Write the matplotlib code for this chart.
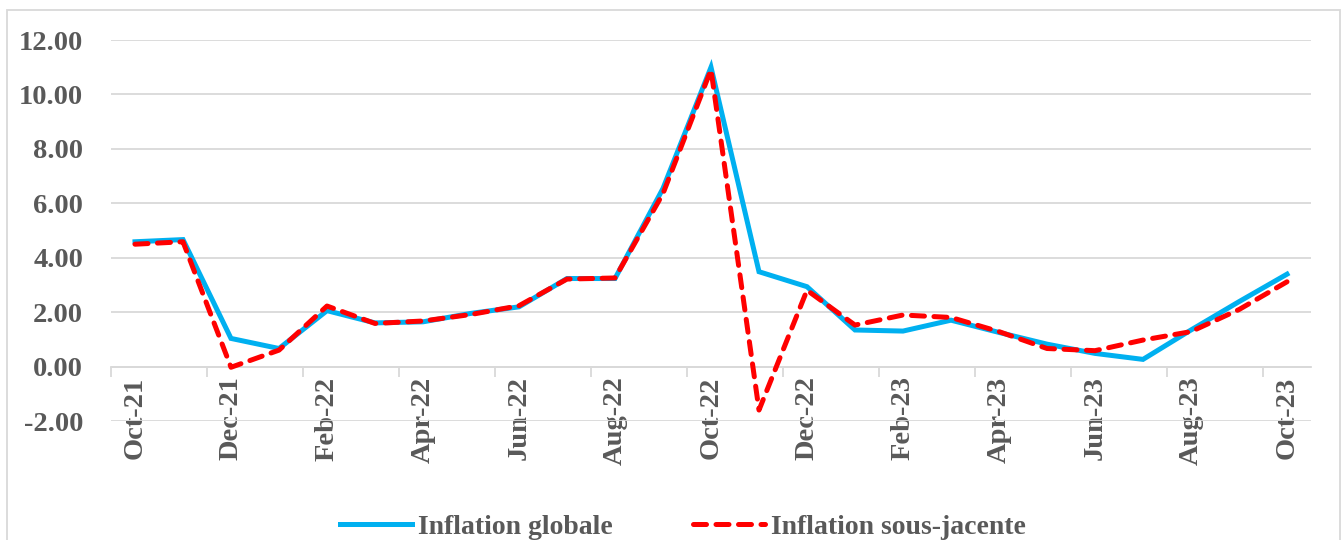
import matplotlib
matplotlib.use("Agg")
from matplotlib import pyplot as plt
from matplotlib.patches import Rectangle
import numpy as np

# monthly data, Oct-21 .. Oct-23
months = ["Oct-21", "Nov-21", "Dec-21", "Jan-22", "Feb-22", "Mar-22", "Apr-22",
          "May-22", "Jun-22", "Jul-22", "Aug-22", "Sep-22", "Oct-22", "Nov-22",
          "Dec-22", "Jan-23", "Feb-23", "Mar-23", "Apr-23", "May-23", "Jun-23",
          "Jul-23", "Aug-23", "Sep-23", "Oct-23"]
inflation_globale = [4.59, 4.67, 1.04, 0.67, 2.06, 1.61, 1.65, 1.96, 2.20, 3.24,
                     3.24, 6.55, 11.00, 3.49, 2.94, 1.35, 1.31, 1.71, 1.26, 0.83,
                     0.49, 0.27, 1.35, 2.39, 3.40]
inflation_sous_jacente = [4.50, 4.59, -0.02, 0.61, 2.23, 1.59, 1.68, 1.92, 2.24,
                          3.22, 3.26, 6.36, 10.91, -1.59, 2.81, 1.53, 1.90, 1.81,
                          1.29, 0.67, 0.59, 0.98, 1.29, 2.10, 3.12]
series_names = ["Inflation globale", "Inflation sous-jacente"]

plt.rcParams['font.family'] = ['Liberation Serif', 'DejaVu Serif']
plt.rcParams['font.weight'] = 'bold'
plt.rcParams['axes.unicode_minus'] = False

text_col = '#595959'
grid_col = '#d9d9d9'

fig = plt.figure(figsize=(13.44, 5.4), dpi=100)
ax = fig.add_axes([111/1344, 1 - 421.2/540, 1200/1344, (421.2 - 40)/540])

x = np.arange(len(months))
ax.plot(x, inflation_globale, color='#00B0F0', lw=3.6, solid_joinstyle='miter',
        label=series_names[0], zorder=3)
ax.plot(x, inflation_sous_jacente, color='#FF0000', lw=3.6, dashes=(2.6, 1.9),
        dash_capstyle='round', label=series_names[1], zorder=4)

ax.set_xlim(-0.5, len(months) - 0.5)
ax.set_ylim(-2, 12)
ax.set_yticks(np.arange(-2, 13, 2))
ax.set_yticklabels(["%.2f" % v for v in np.arange(-2, 13, 2)])
ax.grid(axis='y', color=grid_col, lw=1.3)
ax.set_axisbelow(True)

for s in ['top', 'right', 'left']:
    ax.spines[s].set_visible(False)
ax.spines['bottom'].set_position(('data', 0))
ax.spines['bottom'].set_color(grid_col)
ax.spines['bottom'].set_linewidth(1.3)

# labels every 2 months at category centres, tick marks on boundaries
ax.set_xticks(x[::2])
ax.set_xticklabels(months[::2], rotation=90, va='top', ha='center')
ax.set_xticks(x[::2] - 0.5, minor=True)
ax.tick_params(axis='x', which='major', length=0, pad=7, labelsize=20.5, colors=text_col)
ax.tick_params(axis='x', which='minor', length=7, width=1.3, color=grid_col, direction='out')
ax.tick_params(axis='y', length=0, pad=20, labelsize=20.5, colors=text_col)

# outer chart border
fig.patches.append(Rectangle((7/1344, -0.1), (1340 - 7)/1344, 1.1 - 10/540,
                             transform=fig.transFigure, fill=False,
                             edgecolor=grid_col, lw=1.3))

leg = fig.legend(loc='center', bbox_to_anchor=(0.508, 1 - 527/540), ncol=2,
                 frameon=False, handlelength=2.6, handletextpad=0.2,
                 columnspacing=2.9, prop={'size': 20, 'weight': 'bold'})
for t in leg.get_texts():
    t.set_color(text_col)

fig.savefig('out.png', dpi=100)
